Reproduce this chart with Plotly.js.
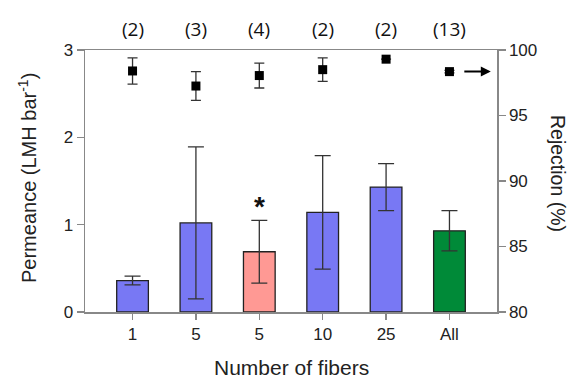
<!DOCTYPE html>
<html>
<head>
<meta charset="utf-8">
<script src="https://cdn.plot.ly/plotly-3.0.1.min.js"></script>
<style>html,body{margin:0;padding:0;background:#fff;}#chart{width:573px;height:380px;}</style>
</head>
<body>
<div id="chart"></div>
<script>
var categories = ['1', '5', '5', '10', '25', 'All'];
var counts = ['(2)', '(3)', '(4)', '(2)', '(2)', '(13)'];
var permeance = [0.36, 1.02, 0.69, 1.14, 1.43, 0.93];
var permeanceErr = [0.05, 0.87, 0.36, 0.65, 0.27, 0.23];
var rejection = [98.4, 97.25, 98.05, 98.5, 99.3, 98.35];
var rejectionErr = [1.0, 1.1, 0.95, 0.9, 0, 0.1];
var barColors = ['#7878f4', '#7878f4', '#ff9994', '#7878f4', '#7878f4', '#008a38'];

var idx = categories.map(function(_, i){ return i; });
var font = 'Liberation Sans, Arial, sans-serif';
var tickFont = {family: font, size: 17, color: '#222'};

var traces = [
  {
    type: 'bar', x: idx, y: permeance, width: 0.5,
    marker: {color: barColors, line: {color: '#222', width: 1.3}},
    error_y: {type: 'data', array: permeanceErr, visible: true, color: '#333', thickness: 1.3, width: 8},
    showlegend: false, hoverinfo: 'skip'
  },
  {
    type: 'scatter', mode: 'markers', x: idx, y: rejection, yaxis: 'y2',
    marker: {symbol: 'square', size: 9, color: '#000'},
    error_y: {type: 'data', array: rejectionErr, visible: true, color: '#333', thickness: 1.3, width: 5},
    showlegend: false, hoverinfo: 'skip'
  }
];

var annotations = counts.map(function(c, i){
  return {x: i, y: 1, xref: 'x', yref: 'paper', yanchor: 'bottom', yshift: 6,
          text: c, showarrow: false, font: {family: 'Open Sans, Liberation Sans, sans-serif', size: 19, color: '#111'}};
});
annotations.push({x: 2, y: permeance[2] + permeanceErr[2], xref: 'x', yref: 'y', yanchor: 'bottom', yshift: -4,
  text: '<b>*</b>', showarrow: false, font: {family: font, size: 28, color: '#111'}});
annotations.push({x: 0.985, y: rejection[5], xref: 'paper', yref: 'y2', ax: -28, ay: 0,
  text: '', showarrow: true, arrowhead: 2, arrowsize: 1, arrowwidth: 2, arrowcolor: '#000', standoff: 0, startstandoff: 0});
annotations.push({x: 1, y: 0.5, xref: 'paper', yref: 'paper', xanchor: 'center', yanchor: 'middle', xshift: 61, yshift: 8,
  text: 'Rejection (%)', textangle: 90, showarrow: false, font: {family: font, size: 19.5, color: '#222'}});
annotations.push({x: 0, y: 0.5, xref: 'paper', yref: 'paper', xanchor: 'center', yanchor: 'middle', xshift: -58, yshift: 3,
  text: 'Permeance (LMH bar<sup>-1</sup>)', textangle: -90, showarrow: false, font: {family: font, size: 20, color: '#222'}});
annotations.push({x: 0.5, y: 0, xref: 'paper', yref: 'paper', xanchor: 'center', yanchor: 'middle', yshift: -55,
  text: 'Number of fibers', showarrow: false, font: {family: font, size: 21, color: '#222'}});

var layout = {
  width: 573, height: 380,
  margin: {l: 85, r: 76, t: 50, b: 68},
  paper_bgcolor: '#fff', plot_bgcolor: '#fff',
  font: {family: font, size: 17, color: '#222'},
  xaxis: {
    range: [-0.75, 5.75], tickvals: idx, ticktext: categories, tickfont: tickFont,
    showline: true, linecolor: '#888', linewidth: 1.5, mirror: true,
    ticks: 'outside', ticklen: 6, tickcolor: '#888', tickwidth: 1.5,
    showgrid: false, zeroline: false
  },
  yaxis: {
    range: [0, 3], tickvals: [0, 1, 2, 3], tickfont: tickFont,
    showline: true, linecolor: '#888', linewidth: 1.5,
    ticks: 'outside', ticklen: 7, tickcolor: '#888', tickwidth: 1.5,
    showgrid: false, zeroline: false
  },
  yaxis2: {
    overlaying: 'y', side: 'right', range: [80, 100], tickvals: [80, 85, 90, 95, 100], tickfont: tickFont,
    showline: true, linecolor: '#888', linewidth: 1.5,
    ticks: 'outside', ticklen: 7, tickcolor: '#888', tickwidth: 1.5,
    showgrid: false, zeroline: false
  },
  annotations: annotations
};

Plotly.newPlot('chart', traces, layout, {displayModeBar: false, staticPlot: true});
</script>
</body>
</html>
